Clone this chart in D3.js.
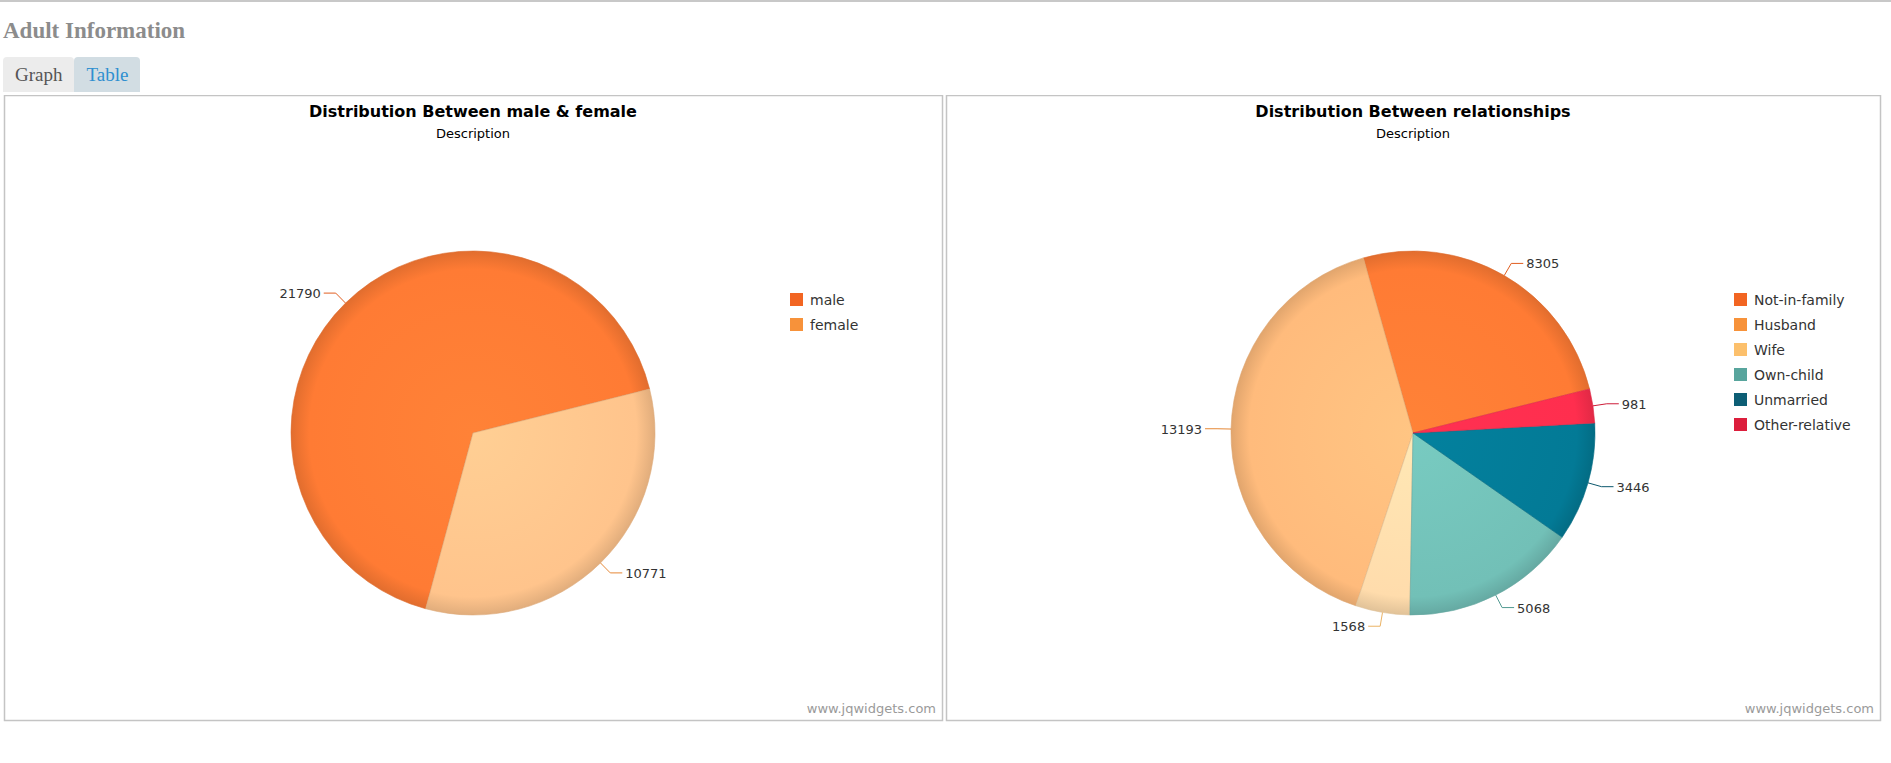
<!DOCTYPE html>
<html>
<head>
<meta charset="utf-8">
<script src="https://cdn.jsdelivr.net/npm/d3@7"></script>
<style>
  body { margin: 0; background: #fff; font-family: "DejaVu Sans", Verdana, sans-serif; }
  #top { border-top: 2px solid #c8c8c8; }
  h2 { font-family: "Liberation Serif", serif; color: #8c8c8c; font-size: 23px; margin: 16px 0 0 3px; }
  .tabs { margin: 13px 0 0 3px; height: 36px; }
  .tab { display: inline-block; font-family: "Liberation Serif", serif; font-size: 19px; padding: 7px 12px 6px 12px; border-radius: 4px 4px 0 0; }
  #charts { position: absolute; left: 0; top: 95px; }
</style>
</head>
<body>
<div id="top"></div>
<h2>Adult Information</h2>
<div class="tabs"><span class="tab" style="background:#ececec;color:#555">Graph</span><span class="tab" style="background:#d2dde3;color:#2e8fd0">Table</span></div>
<svg id="charts" width="1891" height="640"></svg>
<script>
// data
const sexLabels = ["male", "female"];
const sexValues = [21790, 10771];
const sexLegend = ["#f26522", "#f7923a"];
const sexFill = ["#ff7b34", "#ffc48c"];

const relLabels = ["Not-in-family", "Husband", "Wife", "Own-child", "Unmarried", "Other-relative"];
const relValues = [8305, 13193, 1568, 5068, 3446, 981];
const relLegend = ["#f26522", "#f7923a", "#fcc06c", "#58a59d", "#0d5e75", "#dc1e3c"];
const relFill = ["#ff7b34", "#ffbb7c", "#ffdcac", "#72c0b7", "#037a96", "#ff2e4e"];

const svg = d3.select("#charts");
const defs = svg.append("defs");

function drawPanel(id, x, w, title, labels, values, legendColors, fills, legendX) {
  const g = svg.append("g").attr("transform", `translate(${x},0)`);
  g.append("rect").attr("x", 0.5).attr("y", 0.5).attr("width", w).attr("height", 625)
    .attr("fill", "#fff").attr("stroke", "#c4c4c4").attr("stroke-width", 1.5);
  g.append("text").attr("x", w / 2).attr("y", 22).attr("text-anchor", "middle")
    .attr("font-weight", "bold").attr("font-size", 16).text(title);
  g.append("text").attr("x", w / 2).attr("y", 43).attr("text-anchor", "middle")
    .attr("font-size", 13).text("Description");
  g.append("text").attr("x", w - 6).attr("y", 618).attr("text-anchor", "end")
    .attr("font-size", 13).attr("fill", "#9a9a9a").text("www.jqwidgets.com");

  const cx = w / 2, cy = 338, r = 182;
  // slices run counter-clockwise from 14 degrees above the right horizontal
  const start = (90 - 14) * Math.PI / 180;
  const pie = d3.pie().sort(null).startAngle(start).endAngle(start - 2 * Math.PI);
  const arcs = pie(values);
  const arc = d3.arc().innerRadius(0).outerRadius(r);
  const pg = g.append("g").attr("transform", `translate(${cx},${cy})`);

  fills.forEach((c, i) => {
    const grad = defs.append("radialGradient").attr("id", `${id}g${i}`)
      .attr("gradientUnits", "userSpaceOnUse").attr("cx", 0).attr("cy", 0).attr("r", r);
    grad.append("stop").attr("offset", "0%").attr("stop-color", d3.color(c).brighter(0.15));
    grad.append("stop").attr("offset", "90%").attr("stop-color", c);
    grad.append("stop").attr("offset", "100%").attr("stop-color", d3.color(c).darker(0.35));
  });

  pg.selectAll("path").data(arcs).join("path")
    .attr("d", arc)
    .attr("fill", (d, i) => `url(#${id}g${i})`)
    .attr("stroke", (d, i) => d3.color(fills[i]).darker(0.4))
    .attr("stroke-width", 0.6);

  arcs.forEach((d, i) => {
    const a = (d.startAngle + d.endAngle) / 2;
    const sx = Math.sin(a), sy = -Math.cos(a);
    const p0 = [sx * r, sy * r];
    const p1 = [sx * (r + 14), sy * (r + 14)];
    const dir = sx >= 0 ? 1 : -1;
    const p2 = [p1[0] + dir * 12, p1[1]];
    const col = d3.color(legendColors[i]).darker(0.2);
    pg.append("path").attr("d", d3.line()([p0, p1, p2]))
      .attr("fill", "none").attr("stroke", col).attr("stroke-width", 1);
    pg.append("text").attr("x", p2[0] + dir * 3).attr("y", p2[1] + 5)
      .attr("text-anchor", dir > 0 ? "start" : "end").attr("font-size", 13)
      .attr("fill", "#333").text(d3.format("d")(values[i]));
  });

  const lg = g.append("g").attr("transform", `translate(${legendX},210)`);
  labels.forEach((l, i) => {
    lg.append("rect").attr("x", 0).attr("y", i * 25 - 12).attr("width", 13).attr("height", 13)
      .attr("fill", legendColors[i]);
    lg.append("text").attr("x", 20).attr("y", i * 25).attr("font-size", 14)
      .attr("fill", "#333").text(l);
  });
}

drawPanel("s", 4, 938, "Distribution Between male & female", sexLabels, sexValues, sexLegend, sexFill, 786);
drawPanel("r", 946, 934, "Distribution Between relationships", relLabels, relValues, relLegend, relFill, 788);
</script>
</body>
</html>
